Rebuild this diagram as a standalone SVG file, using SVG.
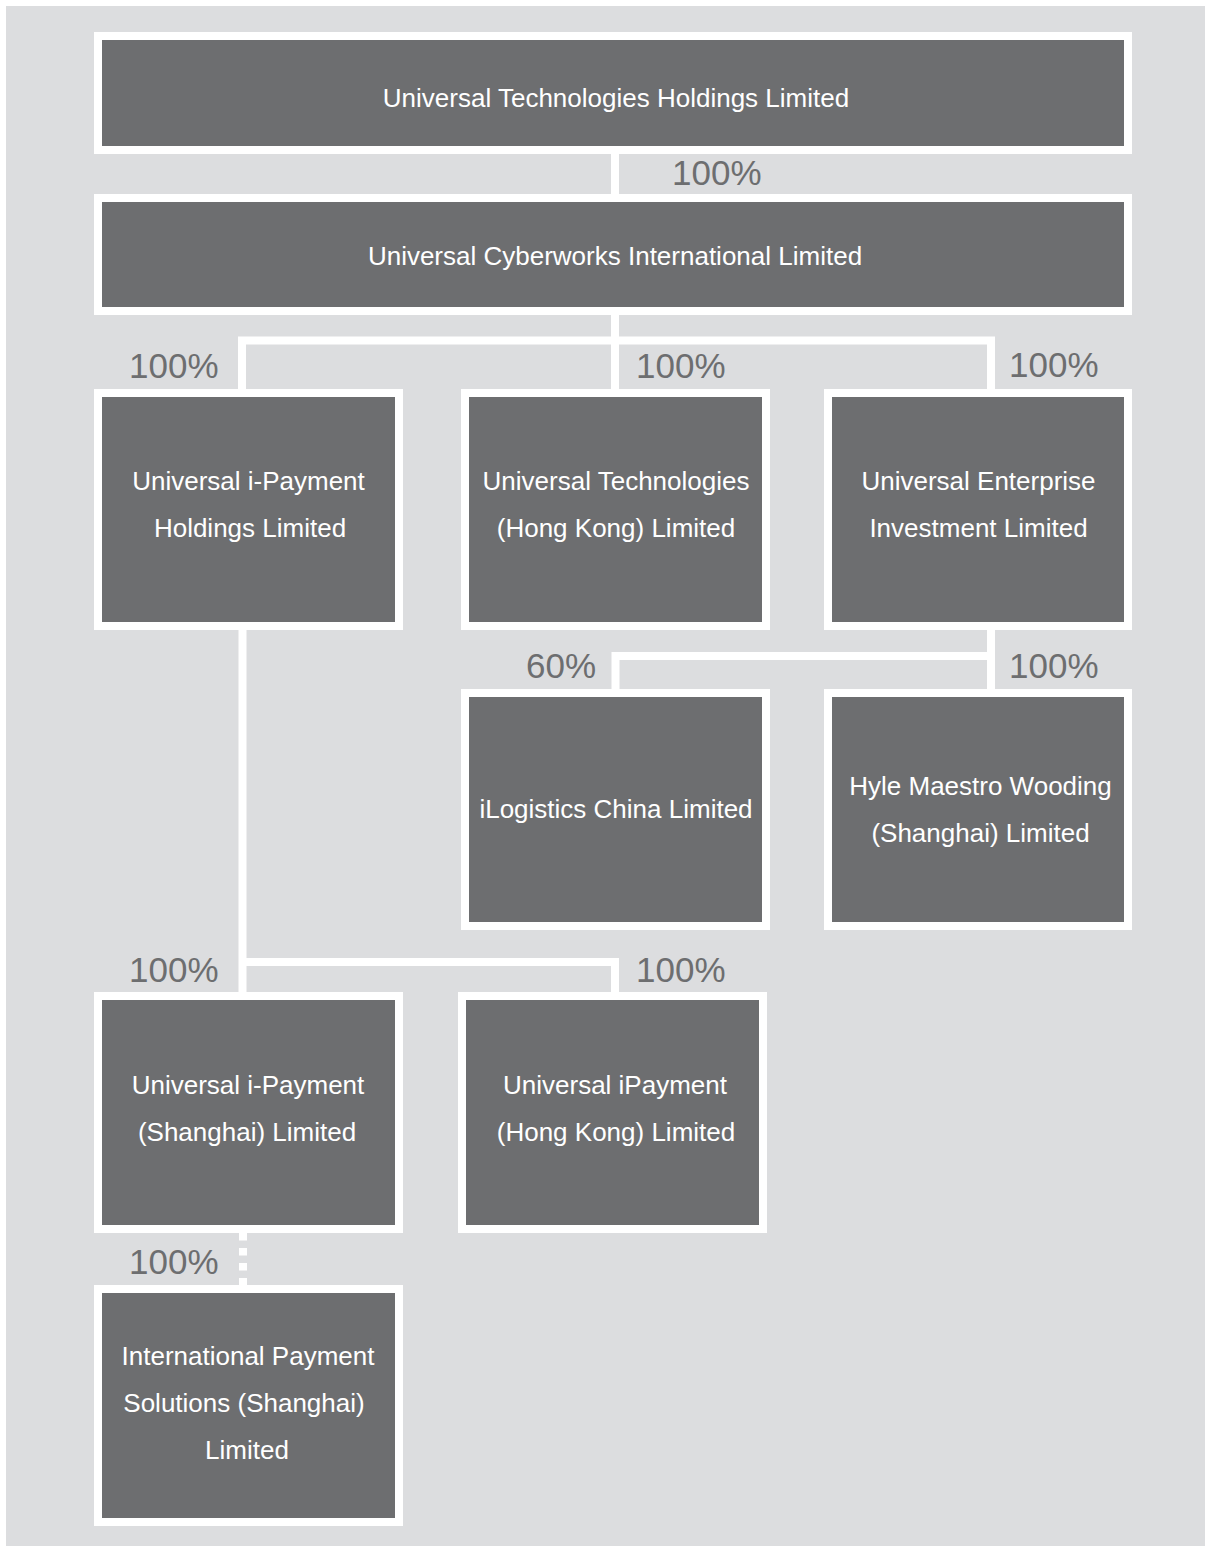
<svg xmlns="http://www.w3.org/2000/svg" width="1205" height="1546" viewBox="0 0 1205 1546">
<style>
.box{fill:#6d6e70;stroke:#ffffff;stroke-width:8}
.t{fill:#ffffff;font-family:"Liberation Sans",Arial,sans-serif;font-size:26px;text-anchor:middle}
.p{fill:#6d6e70;font-family:"Liberation Sans",Arial,sans-serif;font-size:35px}
.c{fill:none;stroke:#ffffff;stroke-width:8}
</style>
<rect x="0" y="0" width="1205" height="1546" fill="#ffffff"/>
<rect x="6" y="6" width="1199" height="1540" fill="#dcdddf"/>
<g id="connectors">
<path class="c" d="M615,154 V194"/>
<path class="c" d="M615,315 V340.5 M238,340.5 H995 M242,336.5 V389 M615,340 V389 M991,336.5 V389"/>
<path class="c" d="M991,630 V689 M611.5,656 H995 M615.5,652 V689"/>
<path class="c" d="M242.5,630 V992 M238.5,962 H619 M615,958 V992"/>
<path class="c" d="M243,1233 V1285" stroke-dasharray="7.5 7.5"/>
</g>
<g id="labels">
<text class="p" x="672" y="185">100%</text>
<text class="p" x="129" y="378">100%</text>
<text class="p" x="636" y="378">100%</text>
<text class="p" x="1009" y="377">100%</text>
<text class="p" x="526" y="678">60%</text>
<text class="p" x="1009" y="678">100%</text>
<text class="p" x="129" y="982">100%</text>
<text class="p" x="636" y="982">100%</text>
<text class="p" x="129" y="1274">100%</text>
</g>
<g id="n1"><rect class="box" x="98" y="36" width="1030" height="114"/>
<text class="t" x="616" y="107">Universal Technologies Holdings Limited</text></g>
<g id="n2"><rect class="box" x="98" y="198" width="1030" height="113"/>
<text class="t" x="615" y="265">Universal Cyberworks International Limited</text></g>
<g id="n3"><rect class="box" x="98" y="393" width="301" height="233"/>
<text class="t" x="248.5" y="490">Universal i-Payment</text>
<text class="t" x="250" y="537">Holdings Limited</text></g>
<g id="n4"><rect class="box" x="465" y="393" width="301" height="233"/>
<text class="t" x="616" y="490">Universal Technologies</text>
<text class="t" x="616" y="537">(Hong Kong) Limited</text></g>
<g id="n5"><rect class="box" x="828" y="393" width="300" height="233"/>
<text class="t" x="978.5" y="490">Universal Enterprise</text>
<text class="t" x="978.5" y="537">Investment Limited</text></g>
<g id="n6"><rect class="box" x="465" y="693" width="301" height="233"/>
<text class="t" x="616" y="818">iLogistics China Limited</text></g>
<g id="n7"><rect class="box" x="828" y="693" width="300" height="233"/>
<text class="t" x="980.5" y="795">Hyle Maestro Wooding</text>
<text class="t" x="980.5" y="842">(Shanghai) Limited</text></g>
<g id="n8"><rect class="box" x="98" y="996" width="301" height="233"/>
<text class="t" x="248" y="1094">Universal i-Payment</text>
<text class="t" x="247" y="1141">(Shanghai) Limited</text></g>
<g id="n9"><rect class="box" x="462" y="996" width="301" height="233"/>
<text class="t" x="615" y="1094">Universal iPayment</text>
<text class="t" x="616" y="1141">(Hong Kong) Limited</text></g>
<g id="n10"><rect class="box" x="98" y="1289" width="301" height="233"/>
<text class="t" x="248" y="1365">International Payment</text>
<text class="t" x="244" y="1412">Solutions (Shanghai)</text>
<text class="t" x="247" y="1459">Limited</text></g>
</svg>
